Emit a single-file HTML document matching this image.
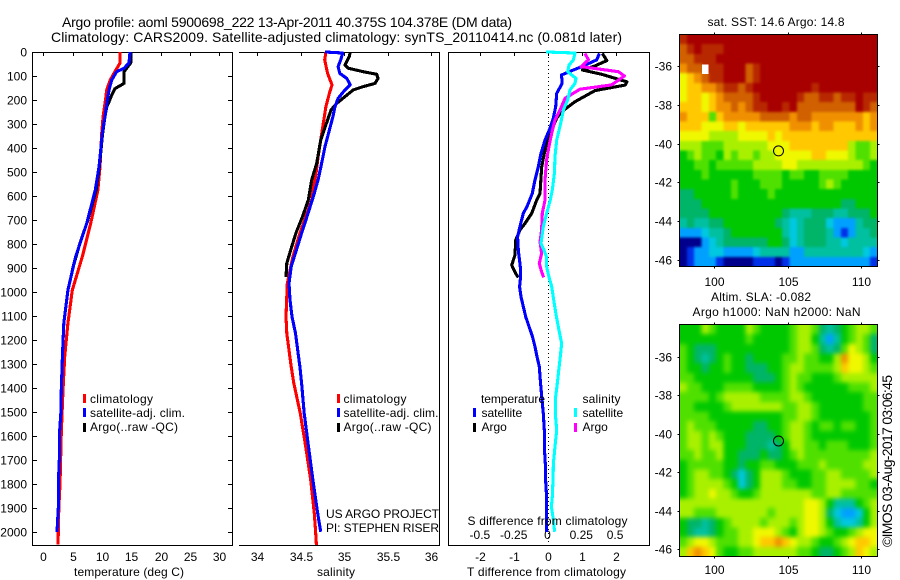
<!DOCTYPE html>
<html lang="en">
<head>
<meta charset="utf-8">
<title>Argo profile chart</title>
<style>
html,body{margin:0;padding:0;background:#fff;}
svg{display:block;font-family:"Liberation Sans",sans-serif;font-size:12px;fill:#000;}
</style>
</head>
<body>
<svg id="chart" xmlns="http://www.w3.org/2000/svg" width="900" height="580" viewBox="0 0 900 580">
<defs>
<filter id="blurSst" color-interpolation-filters="sRGB" x="-5%" y="-5%" width="110%" height="110%">
<feGaussianBlur stdDeviation="1.2"/>
<feComponentTransfer><feFuncA type="linear" slope="60"/></feComponentTransfer>
</filter>
<filter id="blurSla" color-interpolation-filters="sRGB" x="-5%" y="-5%" width="110%" height="110%">
<feGaussianBlur stdDeviation="2.4"/>
<feComponentTransfer><feFuncA type="linear" slope="60"/></feComponentTransfer>
</filter>
<clipPath id="clipSst"><rect x="679.5" y="34.5" width="198" height="232"/></clipPath>
<clipPath id="clipSla"><rect x="679.5" y="324.5" width="198" height="232"/></clipPath>
</defs>
<rect x="0" y="0" width="900" height="580" fill="#fff"/>
<g id="mapSst"></g>
<g id="mapSla"></g>
<g id="panelT"></g>
<g id="panelS"></g>
<g id="panelD"></g>

<text x="62" y="27" font-size="14" textLength="450">Argo profile: aoml 5900698_222 13-Apr-2011 40.375S 104.378E (DM data)</text>
<text x="51" y="42" font-size="14" textLength="571">Climatology: CARS2009. Satellite-adjusted climatology: synTS_20110414.nc (0.081d later)</text>
<text x="74" y="576" textLength="110">temperature (deg C)</text>
<text x="317" y="576" textLength="38">salinity</text>
<text x="467" y="576" textLength="159">T difference from climatology</text>
<text x="467.5" y="525" textLength="160">S difference from climatology</text>
<text x="326" y="518" textLength="113">US ARGO PROJECT</text>
<text x="326" y="532" textLength="113">PI: STEPHEN RISER</text>

<g>
<rect x="83" y="394" width="3" height="9" fill="#f00"/>
<rect x="83" y="408" width="3" height="9" fill="#00f"/>
<rect x="83" y="423" width="3" height="9" fill="#000"/>
<text x="90" y="403" textLength="63">climatology</text>
<text x="90" y="417" textLength="95">satellite-adj. clim.</text>
<text x="90" y="431" textLength="88">Argo(..raw -QC)</text>
</g>
<g>
<rect x="337" y="394" width="3" height="9" fill="#f00"/>
<rect x="337" y="408" width="3" height="9" fill="#00f"/>
<rect x="337" y="423" width="3" height="9" fill="#000"/>
<text x="343.5" y="403" textLength="63">climatology</text>
<text x="343.5" y="417" textLength="95">satellite-adj. clim.</text>
<text x="343.5" y="431" textLength="88">Argo(..raw -QC)</text>
</g>
<g>
<text x="481" y="403" textLength="64">temperature</text>
<text x="582.5" y="403" textLength="38">salinity</text>
<rect x="473" y="408" width="3" height="9" fill="#00f"/>
<rect x="473" y="423" width="3" height="9" fill="#000"/>
<rect x="574" y="408" width="3" height="9" fill="#0ff"/>
<rect x="574" y="423" width="3" height="9" fill="#f0f"/>
<text x="481.5" y="417">satellite</text>
<text x="481.5" y="431">Argo</text>
<text x="582.5" y="417">satellite</text>
<text x="582.5" y="431">Argo</text>
</g>

<text x="707.5" y="26" textLength="137">sat. SST: 14.6 Argo: 14.8</text>
<text x="711" y="301" textLength="100">Altim. SLA: -0.082</text>
<text x="692.5" y="316" textLength="168">Argo h1000: NaN h2000: NaN</text>
<text transform="translate(892 547) rotate(-90)" font-size="14" textLength="172">©IMOS 03-Aug-2017 03:06:45</text>
</svg>

<script>
/* ---------- profile axis ticks ---------- */
const depthTicks = [0,100,200,300,400,500,600,700,800,900,1000,1100,1200,1300,1400,1500,1600,1700,1800,1900,2000];
const tempTicks = [0,5,10,15,20,25,30];
const salTicks = [34,34.5,35,35.5,36];
const tDiffTicks = [-2,-1,0,1,2];
const sDiffTicks = [-0.5,-0.25,0,0.25,0.5];
const lonTicks = [100,105,110];
const latTicks = [-36,-38,-40,-42,-44,-46];

/* ---------- temperature panel series ---------- */
const tClimDepth = [0,46,82,117,158,200,270,338,478,575,714,853,992,1131,1269,1408,1500,1600,1700,1800,1900,2000,2053];
const tClimValue = [13.07,13.07,12.2,11.4,10.8,10.6,10.2,9.95,9.66,9.3,8.08,6.65,4.95,4.2,3.65,3.36,3.2,3.05,2.95,2.85,2.65,2.56,2.5];
const tSatDepth = [0,46,68,82,117,158,201,270,340,409,479,575,714,853,992,1131,1269,1408,1500,1600,1700,1800,1900,2000];
const tSatValue = [14.78,14.6,13.75,12.5,11.66,11.2,10.9,10.5,10.06,9.78,9.5,8.87,7.4,5.5,4.2,3.5,3.25,3.07,3.0,2.73,2.73,2.56,2.56,2.33];
const tArgoDepth = [4,46,68,82,131,153,180,208,229,270,340,479,575,700,800,894,938];
const tArgoValue = [14.9,14.9,14.2,13.75,13.75,12.2,11.66,11.2,10.8,10.5,10.1,9.55,9.0,7.6,6.2,5.1,4.7];

/* ---------- salinity panel series ---------- */
const sClimDepth = [0,33,89,137,172,228,297,367,436,506,575,617,755,853,964,1103,1172,1242,1311,1380,1506,1644,1783,1922,1992,2054];
const sClimValue = [34.79,34.776,34.81,34.86,34.83,34.79,34.76,34.73,34.7,34.676,34.64,34.626,34.49,34.41,34.345,34.33,34.34,34.365,34.39,34.42,34.495,34.557,34.615,34.656,34.67,34.68];
const sSatDepth = [0,4,33,61,89,110,137,158,193,228,269,325,394,464,533,603,700,755,853,894,964,1033,1103,1172,1242,1311,1380,1506,1644,1783,1922,1999];
const sSatValue = [34.78,34.983,34.96,34.93,34.95,35.03,35.07,35.01,34.93,34.895,34.87,34.83,34.78,34.74,34.70,34.645,34.56,34.51,34.426,34.39,34.365,34.376,34.40,34.44,34.465,34.49,34.51,34.54,34.59,34.64,34.695,34.73];
const sArgoDepth = [4,18,54,68,82,93,110,131,144,158,186,214,241,283,367,464,533,617,686,755,825,880,938];
const sArgoValue = [35.067,35.06,35.01,35.05,35.22,35.375,35.39,35.355,35.22,35.105,35.01,34.914,34.85,34.81,34.73,34.684,34.626,34.587,34.52,34.445,34.385,34.34,34.33];

/* ---------- difference panel series ---------- */
const dtSatDepth = [6,33,61,78,96,131,172,228,276,318,367,422,478,533,589,644,672,728,770,825,894,936,978,1020,1061,1103,1145,1186,1228,1269,1311,1367,1436,1506,1575,1644,1714,1783,1853,1922,1999];
const dtSatValue = [1.52,1.44,1.0,0.7,0.4,0.42,0.256,0.227,0.158,0.06,-0.09,-0.207,-0.286,-0.385,-0.464,-0.62,-0.73,-0.83,-0.9,-0.88,-0.82,-0.81,-0.84,-0.8,-0.73,-0.66,-0.56,-0.46,-0.385,-0.325,-0.256,-0.227,-0.187,-0.138,-0.108,-0.108,-0.08,-0.07,-0.04,-0.04,-0.04];
const dtArgoDepth = [6,36,58,75,93,124,138,161,207,249,276,325,367,422,478,589,617,672,714,742,784,846,888,923,939];
const dtArgoValue = [1.61,1.74,1.39,1.02,1.59,2.33,2.28,1.39,0.8,0.4,0.256,0.108,-0.01,-0.108,-0.187,-0.237,-0.335,-0.483,-0.68,-0.83,-0.957,-0.976,-1.075,-0.957,-0.878];
const dsSatDepth = [0,4,33,54,82,110,131,158,200,241,297,367,436,506,575,617,672,728,797,825,853,894,936,978,1033,1103,1172,1214,1269,1339,1367,1436,1506,1575,1644,1714,1783,1853,1894,1950,1999];
const dsSatValue = [-0.015,0.2,0.188,0.156,0.146,0.207,0.2,0.163,0.146,0.114,0.094,0.064,0.052,0.047,0.032,0.017,-0.01,-0.035,-0.052,-0.03,-0.012,-0.01,0.007,0.027,0.042,0.062,0.086,0.101,0.091,0.077,0.072,0.057,0.054,0.064,0.052,0.04,0.037,0.032,0.025,0.04,0.049];
const dsArgoDepth = [6,33,61,82,100,137,155,193,242,283,339,394,450,533,617,672,742,791,839,881,916,939];
const dsArgoValue = [0.274,0.299,0.245,0.521,0.565,0.47,0.237,0.126,0.089,0.052,0.027,0.007,-0.01,-0.022,-0.022,-0.042,-0.047,-0.059,-0.047,-0.064,-0.047,-0.032];

/* ---------- map fields: 0.5 degree colour-level rows, north to south ---------- */
const levelColors = ['#00008c','#0030e8','#00a0ff','#00c8e0','#00c0a0','#00b468','#00c800','#50e000','#a8f000','#f0f800','#ffc800','#f09000','#d06000','#b82800','#a80000'];
const sstLevels = [
[13,14,14,14,14,14,14,14,14,14,14,14,14,14,14,14,14,14,14,14,14,14,14,14,14,14,14],
[12,13,14,13,13,13,14,14,14,14,14,14,14,14,14,14,14,14,14,14,14,14,14,14,14,14,14],
[12,12,13,13,13,14,14,14,14,14,14,14,14,14,14,14,14,14,14,14,14,14,14,14,14,14,14],
[11,12,12,null,13,13,14,14,14,12,13,14,14,14,14,14,14,14,14,14,14,14,14,14,14,14,14],
[9,10,11,12,13,13,14,14,14,12,13,14,14,14,14,14,14,14,14,14,14,14,14,14,14,14,14],
[9,10,10,11,11,12,13,13,12,13,14,14,14,14,14,14,14,14,13,14,14,14,14,14,14,14,14],
[9,10,10,9,10,11,12,12,12,12,13,14,14,14,14,14,13,12,12,13,13,12,13,13,14,13,13],
[10,10,10,9,10,11,11,12,11,12,13,13,14,14,13,14,12,12,12,12,12,12,12,12,14,13,12],
[11,10,10,10,7,10,11,11,11,11,11,12,12,12,12,11,12,12,11,11,11,11,11,11,11,10,11],
[10,10,10,9,9,9,10,10,9,10,10,10,10,10,10,11,11,11,10,11,11,10,10,10,11,10,11],
[9,9,9,9,8,8,8,8,9,9,9,9,10,9,10,10,10,10,10,10,10,10,10,10,10,10,10],
[8,8,8,7,7,7,8,8,8,8,8,8,9,9,9,10,10,10,10,10,10,10,10,8,7,7,8],
[6,7,8,7,7,6,8,7,8,8,7,8,8,9,9,9,9,9,10,10,9,9,9,8,7,7,8],
[6,6,7,7,6,7,7,7,7,7,8,8,8,8,9,9,8,8,8,8,8,8,8,8,8,7,6],
[6,6,6,7,6,6,6,6,6,6,7,7,7,7,6,7,7,6,6,7,7,7,7,6,6,6,6],
[6,6,6,6,6,6,6,7,6,6,6,7,7,7,6,6,6,6,6,7,8,7,6,6,6,6,6],
[5,5,6,6,6,6,6,7,6,6,6,6,7,6,6,6,6,6,6,6,6,6,6,6,6,6,6],
[5,5,5,6,6,6,6,6,6,6,6,6,6,6,6,6,6,6,6,6,6,6,5,5,6,6,6],
[5,5,5,5,6,6,6,6,6,6,6,6,6,6,5,4,4,4,5,5,5,4,4,5,5,5,6],
[4,5,4,4,5,5,6,6,6,6,6,6,6,5,4,3,4,5,5,5,3,2,2,2,4,5,5],
[2,2,2,3,4,4,5,6,6,6,6,6,6,6,4,3,4,5,5,5,4,2,1,2,4,4,5],
[0,0,0,2,3,4,5,5,5,5,5,5,6,6,5,3,4,5,5,5,4,4,3,4,4,4,4],
[0,1,2,2,3,3,2,2,2,2,3,4,4,4,4,2,2,4,4,4,4,4,4,4,4,3,2],
[0,1,2,2,2,1,0,0,0,0,1,1,1,0,1,2,2,2,2,2,2,2,2,2,2,2,1]
];
const slaLevels = [
[6,6,6,8,7,6,6,6,6,8,7,6,6,6,6,7,8,8,7,5,4,5,6,7,8,8,7],
[6,6,6,6,6,6,6,6,6,7,6,6,6,6,6,7,8,8,6,4,2,4,6,7,8,7,5],
[7,6,5,5,5,6,6,6,6,6,6,6,6,6,6,7,8,8,7,5,4,5,7,9,8,7,5],
[7,6,5,4,5,6,7,6,6,5,6,6,6,6,7,7,8,7,7,6,6,8,11,9,9,8,6],
[7,6,6,5,6,6,7,6,6,5,5,5,6,6,7,8,8,7,7,7,7,8,10,9,9,8,7],
[7,7,6,6,6,6,6,6,6,6,5,5,5,6,7,8,7,7,6,6,6,7,8,8,8,8,8],
[8,7,7,6,6,6,7,7,7,7,6,6,6,6,7,8,7,6,6,6,6,6,6,7,7,7,8],
[7,7,7,7,6,7,8,8,8,8,8,7,7,7,7,8,8,7,6,6,6,6,6,6,6,7,7],
[7,7,6,6,6,6,7,8,8,8,8,8,8,8,7,7,8,8,7,6,6,6,6,6,6,7,7],
[7,7,7,7,6,6,6,6,6,6,6,6,6,6,7,7,8,8,7,6,6,6,6,6,6,6,7],
[7,8,7,7,7,6,6,6,6,6,5,5,6,6,7,8,8,7,6,7,7,6,7,7,6,6,7],
[7,8,8,7,8,7,6,6,6,5,5,5,5,6,7,8,8,7,6,6,6,6,6,6,6,6,7],
[7,8,8,7,8,8,6,6,6,5,5,5,4,5,6,8,8,7,7,6,7,7,7,6,6,6,7],
[7,7,8,7,7,8,6,6,5,5,5,6,5,5,6,7,8,7,7,7,7,7,7,7,7,7,8],
[6,7,7,7,7,7,6,6,5,6,6,7,7,6,6,6,7,7,7,8,7,7,7,7,7,8,8],
[6,7,8,8,7,7,6,5,3,5,6,8,8,8,7,6,6,6,7,7,8,8,7,7,7,7,8],
[6,7,8,8,8,8,7,6,3,5,6,8,8,8,7,7,6,6,7,7,8,8,8,8,7,7,6],
[6,7,8,8,9,8,8,7,6,6,7,8,8,8,8,8,8,8,7,7,8,8,7,7,7,7,7],
[8,8,8,8,8,8,8,8,8,8,8,8,8,8,8,8,8,9,9,8,6,4,4,4,6,7,8],
[8,8,7,7,7,8,8,8,8,8,8,8,7,8,8,8,8,9,9,8,5,3,2,2,3,6,8],
[6,5,5,4,5,6,7,8,8,8,8,7,8,8,8,7,8,9,9,8,6,4,3,3,4,6,8],
[6,5,4,4,5,6,7,7,8,8,9,9,9,8,7,6,8,9,9,8,7,6,6,7,8,9,9],
[7,8,9,9,8,7,7,7,8,8,9,10,10,11,10,9,8,8,7,6,6,7,8,9,10,10,9],
[8,10,11,10,9,7,6,6,7,7,8,8,8,8,8,8,7,7,6,5,5,6,7,8,10,9,8]
];
const floatLon = [104.378];
const floatLat = [-40.375];

/* ---------- axis functions ---------- */
const NS = 'http://www.w3.org/2000/svg';
const yDepth = d => 52 + 0.24 * d;
const xTemp = t => 43.3 + 5.867 * t;
const xSal = s => 257.3 + 86.85 * (s - 34);
const xTDiff = t => 548 + 33.8 * t;
const xSDiff = s => 548 + 135.2 * s;
const xLon = lon => 714.3 + 14.67 * (lon - 100);
const ySstLat = lat => 66 + 19.4 * (-36 - lat);
const ySlaLat = lat => 356.7 + 19.26 * (-36 - lat);

function mk(parent, tag) {
  const el = document.createElementNS(NS, tag);
  parent.appendChild(el);
  return el;
}
function seg(parent, name, x1, y1, x2, y2) {
  const el = mk(parent, 'line');
  
  
  el.setAttribute('x1', x1);
  el.setAttribute('y1', y1);
  el.setAttribute('x2', x2);
  el.setAttribute('y2', y2);
  el.setAttribute('stroke', '#000');
  el.setAttribute('stroke-width', '1');
  el.setAttribute('shape-rendering', 'crispEdges');
  return el;
}
function label(parent, name, x, y, txt, anchor) {
  const el = mk(parent, 'text');
  
  
  el.setAttribute('x', x);
  el.setAttribute('y', y);
  el.setAttribute('text-anchor', anchor);
  el.textContent = txt;
  return el;
}
function series(parent, name, depths, values, xFn, color) {
  const el = mk(parent, 'polyline');
  
  
  el.setAttribute('fill', 'none');
  el.setAttribute('stroke', color);
  el.setAttribute('stroke-width', '3.1');
  el.setAttribute('stroke-linejoin', 'round');
  el.setAttribute('shape-rendering', 'crispEdges');
  el.setAttribute('points', depths.map((d, i) => xFn(values[i]).toFixed(1) + ',' + yDepth(d).toFixed(1)).join(' '));
  return el;
}

/* ---------- temperature panel ---------- */
const gT = document.getElementById('panelT');
seg(gT, 'temperature-axis-top', 32.5, 52.5, 232.5, 52.5);
seg(gT, 'temperature-axis-bottom', 32.5, 545.5, 232.5, 545.5);
seg(gT, 'temperature-axis-left', 32.5, 52, 32.5, 546);
seg(gT, 'temperature-axis-right', 232.5, 52, 232.5, 546);
depthTicks.forEach(d => {
  const y = Math.round(yDepth(d)) + 0.5;
  seg(gT, 'depth-tick-left', 32, y, 37, y);
  seg(gT, 'depth-tick-right', 228, y, 232, y);
  label(gT, 'depth-tick-label', 27, y + 4, String(d), 'end');
});
tempTicks.forEach(t => {
  const x = Math.round(xTemp(t)) + 0.5;
  seg(gT, 'temperature-tick-top', x, 52, x, 56);
  label(gT, 'temperature-tick-label', x, 561, String(t), 'middle');
});
series(gT, 'temperature-climatology-line', tClimDepth, tClimValue, xTemp, '#f00');
series(gT, 'temperature-argo-line', tArgoDepth, tArgoValue, xTemp, '#000');
series(gT, 'temperature-satellite-line', tSatDepth, tSatValue, xTemp, '#00f');

/* ---------- salinity panel ---------- */
const gS = document.getElementById('panelS');
seg(gS, 'salinity-axis-top', 239, 52.5, 439.5, 52.5);
seg(gS, 'salinity-axis-bottom', 239, 545.5, 439.5, 545.5);
seg(gS, 'salinity-axis-right', 439.5, 52, 439.5, 546);
salTicks.forEach(s => {
  const x = Math.round(xSal(s)) + 0.5;
  seg(gS, 'salinity-tick-top', x, 52, x, 56);
  label(gS, 'salinity-tick-label', x, 561, String(s), 'middle');
});
series(gS, 'salinity-climatology-line', sClimDepth, sClimValue, xSal, '#f00');
series(gS, 'salinity-argo-line', sArgoDepth, sArgoValue, xSal, '#000');
series(gS, 'salinity-satellite-line', sSatDepth, sSatValue, xSal, '#00f');

/* ---------- difference panel ---------- */
const gD = document.getElementById('panelD');
seg(gD, 'difference-axis-top', 448.5, 52.5, 649.5, 52.5);
seg(gD, 'difference-axis-bottom', 448.5, 545.5, 649.5, 545.5);
seg(gD, 'difference-axis-left', 448.5, 52, 448.5, 546);
seg(gD, 'difference-axis-right', 649.5, 52, 649.5, 546);
const zeroLine = seg(gD, 'zero-difference-line', 548.5, 53, 548.5, 545);
zeroLine.setAttribute('stroke-dasharray', '1 3');
tDiffTicks.forEach(t => {
  const x = Math.round(xTDiff(t)) + 0.5;
  seg(gD, 't-difference-tick-top', x, 52, x, 56);
  label(gD, 't-difference-tick-label', x, 561, String(t), 'middle');
});
sDiffTicks.forEach(s => {
  label(gD, 's-difference-tick-label', xSDiff(s) - 0.5, 539, String(s), 'middle');
});
series(gD, 't-difference-argo-line', dtArgoDepth, dtArgoValue, xTDiff, '#000');
series(gD, 't-difference-satellite-line', dtSatDepth, dtSatValue, xTDiff, '#00f');
series(gD, 's-difference-argo-line', dsArgoDepth, dsArgoValue, xSDiff, '#f0f');
series(gD, 's-difference-satellite-line', dsSatDepth, dsSatValue, xSDiff, '#0ff');

/* ---------- maps ---------- */
function drawMap(group, prefix, rows, top, bottom, yLat, xLabelY, filterId, clipId) {
  const left = 679.5, right = 877.5;
  const cw = (right - left) / rows[0].length;
  const ch = (bottom - top) / rows.length;
  const clip = mk(group, 'g');
  
  
  clip.setAttribute('clip-path', 'url(#' + clipId + ')');
  const field = mk(clip, 'g');
  
  
  field.setAttribute('filter', 'url(#' + filterId + ')');
  rows.forEach((row, r) => {
    row.forEach((v, c) => {
      if (v === null) return;
      const cell = mk(field, 'rect');
      
      
      cell.setAttribute('x', (left + c * cw).toFixed(2));
      cell.setAttribute('y', (top + r * ch).toFixed(2));
      cell.setAttribute('width', (cw + 0.4).toFixed(2));
      cell.setAttribute('height', (ch + 0.4).toFixed(2));
      cell.setAttribute('fill', levelColors[Math.max(0, Math.min(levelColors.length - 1, Math.round(v)))]);
      cell.setAttribute('shape-rendering', 'crispEdges');
    });
  });
  rows.forEach((row, r) => {
    row.forEach((v, c) => {
      if (v !== null) return;
      const gap = mk(clip, 'rect');
      
      
      gap.setAttribute('x', (left + c * cw + 0.5).toFixed(2));
      gap.setAttribute('y', (top + r * ch + 1).toFixed(2));
      gap.setAttribute('width', (cw - 1).toFixed(2));
      gap.setAttribute('height', ch.toFixed(2));
      gap.setAttribute('fill', '#fff');
      gap.setAttribute('shape-rendering', 'crispEdges');
    });
  });
  const frame = mk(group, 'rect');
  
  
  frame.setAttribute('x', left);
  frame.setAttribute('y', top);
  frame.setAttribute('width', right - left);
  frame.setAttribute('height', bottom - top);
  frame.setAttribute('fill', 'none');
  frame.setAttribute('stroke', '#000');
  frame.setAttribute('shape-rendering', 'crispEdges');
  lonTicks.forEach(lon => {
    const x = Math.round(xLon(lon)) + 0.5;
    seg(group, prefix + '-longitude-tick-top', x, top - 2, x, top);
    seg(group, prefix + '-longitude-tick-bottom', x, bottom, x, bottom + 2);
    label(group, prefix + '-longitude-label', x, xLabelY, String(lon), 'middle');
  });
  latTicks.forEach(lat => {
    const y = Math.round(yLat(lat)) + 0.5;
    seg(group, prefix + '-latitude-tick-left', left - 2, y, left, y);
    seg(group, prefix + '-latitude-tick-right', right, y, right + 2, y);
    label(group, prefix + '-latitude-label', 672, y + 4, String(lat), 'end');
  });
  const marker = mk(group, 'circle');
  
  
  marker.setAttribute('cx', xLon(floatLon[0]).toFixed(1));
  marker.setAttribute('cy', yLat(floatLat[0]).toFixed(1));
  marker.setAttribute('r', '5');
  marker.setAttribute('fill', 'none');
  marker.setAttribute('stroke', '#000');
}
drawMap(document.getElementById('mapSst'), 'sst', sstLevels, 34.5, 266.5, ySstLat, 286, 'blurSst', 'clipSst');
drawMap(document.getElementById('mapSla'), 'sla', slaLevels, 324.5, 556.5, ySlaLat, 574, 'blurSla', 'clipSla');
</script>
</body>
</html>
